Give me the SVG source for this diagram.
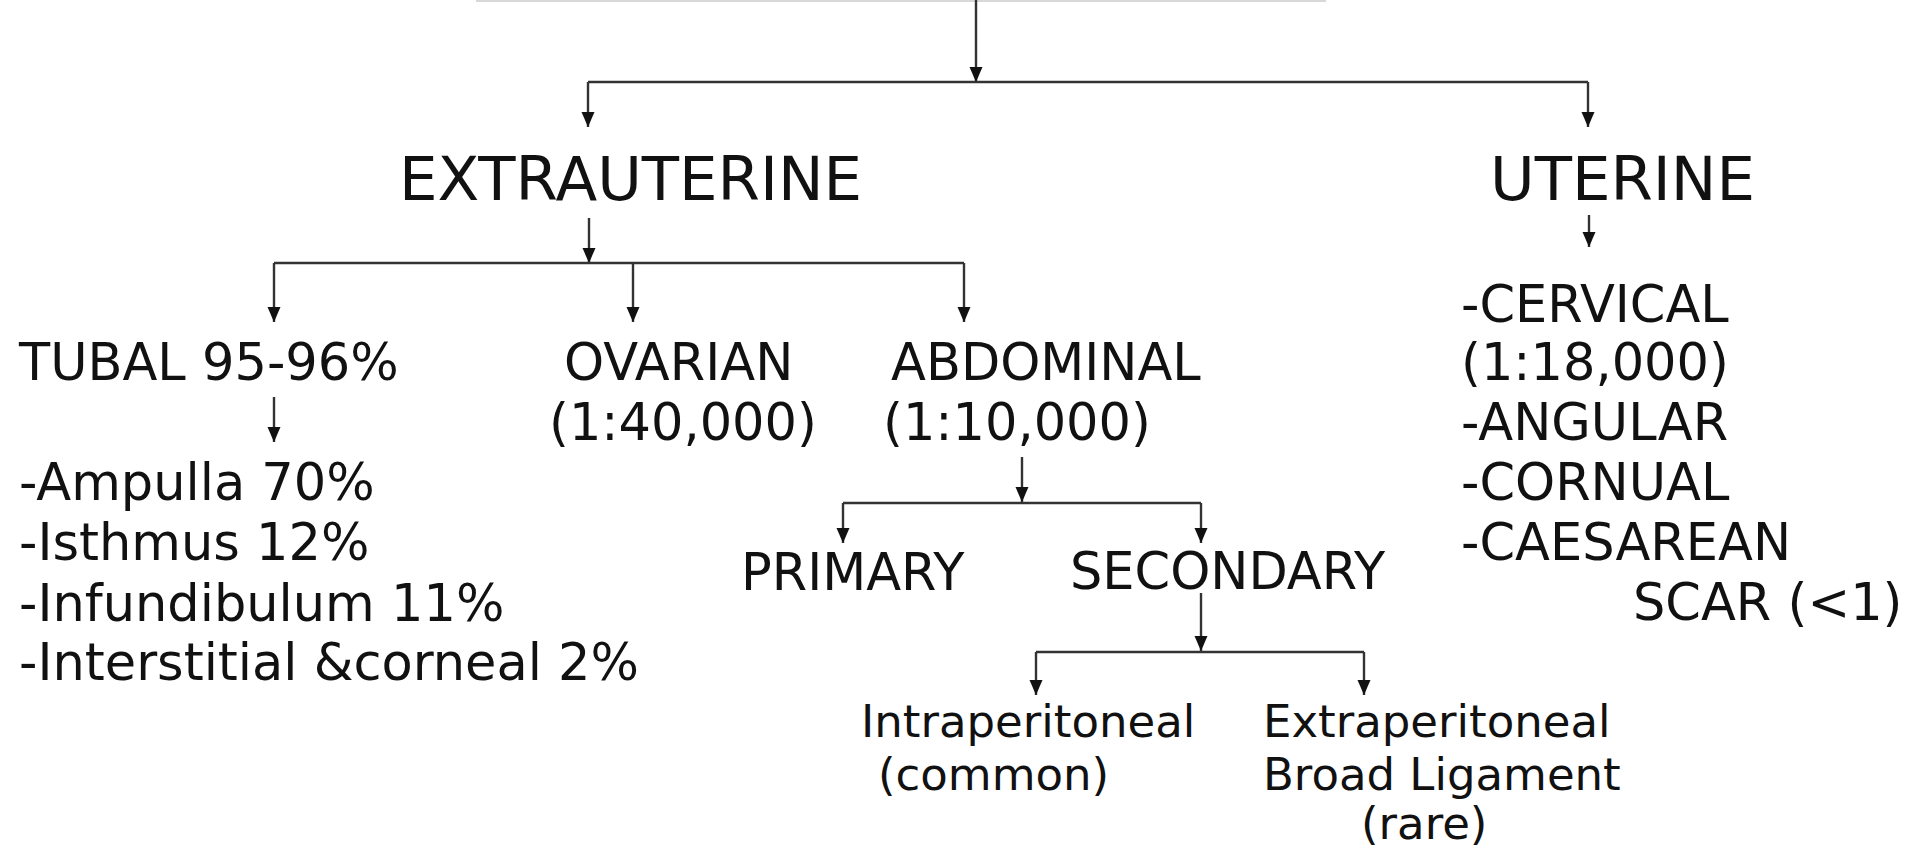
<svg xmlns="http://www.w3.org/2000/svg" width="1913" height="853" viewBox="0 0 1913 853">
<style>
  .t { font-family: "DejaVu Sans", Verdana, sans-serif; fill: #111; }
  .h1 { font-size: 61px; }
  .h2 { font-size: 51px; }
  .h3 { font-size: 45px; }
  .c { fill: none; stroke: #333; stroke-width: 2.4; }
  .ca { fill: none; stroke: #333; stroke-width: 2.4; marker-end: url(#arr); }
</style>
<defs>
  <marker id="arr" markerUnits="userSpaceOnUse" markerWidth="16" markerHeight="14" refX="15" refY="6.5" orient="auto">
    <path d="M0,0 L15,6.5 L0,13 z" fill="#111"/>
  </marker>
</defs>
<rect width="1913" height="853" fill="#fff"/>
<rect x="476" y="0" width="850" height="2" fill="#d8d8d8"/>

<g id="connectors">
  <line class="ca" x1="976" y1="0" x2="976" y2="82"/>
  <line class="c" x1="588" y1="82" x2="1588" y2="82"/>
  <line class="ca" x1="588" y1="82" x2="588" y2="127"/>
  <line class="ca" x1="1588" y1="82" x2="1588" y2="127"/>

  <line class="ca" x1="589" y1="218" x2="589" y2="263"/>
  <line class="c" x1="274" y1="263" x2="964" y2="263"/>
  <line class="ca" x1="274" y1="263" x2="274" y2="322"/>
  <line class="ca" x1="633" y1="263" x2="633" y2="322"/>
  <line class="ca" x1="964" y1="263" x2="964" y2="322"/>

  <line class="ca" x1="274" y1="397" x2="274" y2="442"/>
  <line class="ca" x1="1589" y1="215" x2="1589" y2="247"/>

  <line class="ca" x1="1022" y1="457" x2="1022" y2="502"/>
  <line class="c" x1="843" y1="503" x2="1201" y2="503"/>
  <line class="ca" x1="843" y1="503" x2="843" y2="543"/>
  <line class="ca" x1="1201" y1="503" x2="1201" y2="543"/>

  <line class="ca" x1="1201" y1="593" x2="1201" y2="651"/>
  <line class="c" x1="1036" y1="652" x2="1364" y2="652"/>
  <line class="ca" x1="1036" y1="652" x2="1036" y2="695"/>
  <line class="ca" x1="1364" y1="652" x2="1364" y2="695"/>
</g>

<g id="extrauterine"><text class="t h1" x="399" y="200">EXTRAUTERINE</text></g>
<g id="uterine"><text class="t h1" x="1490" y="200">UTERINE</text></g>

<g id="tubal"><text class="t h2" x="19" y="380">TUBAL 95-96%</text></g>
<g id="tubal-list">
  <text class="t h2" x="19" y="500">-Ampulla 70%</text>
  <text class="t h2" x="19" y="560">-Isthmus 12%</text>
  <text class="t h2" x="19" y="621">-Infundibulum 11%</text>
  <text class="t h2" x="19" y="680">-Interstitial &amp;corneal 2%</text>
</g>
<g id="ovarian">
  <text class="t h2" x="564" y="380">OVARIAN</text>
  <text class="t h2" x="549" y="440">(1:40,000)</text>
</g>
<g id="abdominal">
  <text class="t h2" x="891" y="380">ABDOMINAL</text>
  <text class="t h2" x="883" y="440">(1:10,000)</text>
</g>
<g id="uterine-list">
  <text class="t h2" x="1461" y="322">-CERVICAL</text>
  <text class="t h2" x="1461" y="380">(1:18,000)</text>
  <text class="t h2" x="1461" y="440">-ANGULAR</text>
  <text class="t h2" x="1461" y="500">-CORNUAL</text>
  <text class="t h2" x="1461" y="560">-CAESAREAN</text>
  <text class="t h2" x="1633" y="620">SCAR (&lt;1)</text>
</g>
<g id="primary"><text class="t h2" x="741" y="590">PRIMARY</text></g>
<g id="secondary"><text class="t h2" x="1070" y="589">SECONDARY</text></g>
<g id="intraperitoneal">
  <text class="t h3" x="861" y="737">Intraperitoneal</text>
  <text class="t h3" x="878" y="790">(common)</text>
</g>
<g id="extraperitoneal">
  <text class="t h3" x="1263" y="737">Extraperitoneal</text>
  <text class="t h3" x="1263" y="790">Broad Ligament</text>
  <text class="t h3" x="1361" y="839">(rare)</text>
</g>
</svg>
